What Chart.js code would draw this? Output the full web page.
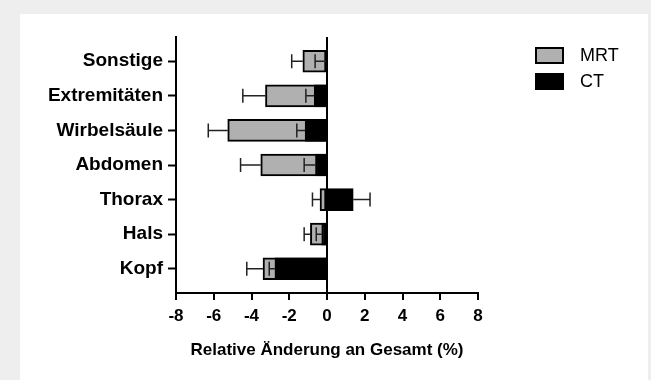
<!DOCTYPE html>
<html>
<head>
<meta charset="utf-8">
<script src="https://cdn.jsdelivr.net/npm/chart.js@4.4.0/dist/chart.umd.min.js"></script>
<style>
  body { margin: 0; background: #eeeeee; width: 651px; height: 380px; overflow: hidden; }
  #panel { position: absolute; left: 20px; top: 14px; width: 628px; height: 366px; background: #fff; }
</style>
</head>
<body>
<div id="panel"><canvas id="chart" width="628" height="366"></canvas></div>
<script>
const categories = ["Sonstige", "Extremitäten", "Wirbelsäule", "Abdomen", "Thorax", "Hals", "Kopf"];
const mrtValues = [-1.28, -3.26, -5.26, -3.51, -0.37, -0.88, -3.39];
const mrtErrors = [0.59, 1.2, 1.03, 1.07, 0.4, 0.33, 0.86];
const ctValues = [-0.05, -0.68, -1.16, -0.61, 1.39, -0.28, -2.76];
const ctErrors = [0.58, 0.44, 0.44, 0.6, 0.89, 0.29, 0.3];
const xTicks = [-8, -6, -4, -2, 0, 2, 4, 6, 8];

Chart.defaults.font.family = "'Liberation Sans', Arial, sans-serif";
Chart.defaults.color = "#000";

const toPoints = (vals) => vals.map((v, i) => ({ x: v, y: i }));

// whiskers go outward from the bar end, one-sided
const errorBars = {
  id: "errorBars",
  afterDatasetsDraw(chart) {
    const { ctx } = chart;
    const xs = chart.scales.x;
    chart.data.datasets.forEach((ds, di) => {
      const meta = chart.getDatasetMeta(di);
      meta.data.forEach((bar, i) => {
        const v = ds.data[i].x;
        const dir = v < 0 ? -1 : 1;
        const x0 = xs.getPixelForValue(v);
        const x1 = xs.getPixelForValue(v + dir * ds.errors[i]);
        ctx.save();
        ctx.strokeStyle = "#222";
        ctx.lineWidth = 1.5;
        ctx.beginPath();
        ctx.moveTo(x0, bar.y);
        ctx.lineTo(x1, bar.y);
        ctx.moveTo(x1, bar.y - 7);
        ctx.lineTo(x1, bar.y + 7);
        ctx.stroke();
        ctx.restore();
      });
    });
  }
};

const boxLegend = {
  id: "boxLegend",
  afterDraw(chart) {
    const { ctx } = chart;
    chart.data.datasets.forEach((ds, i) => {
      const y = 33 + i * 26;
      ctx.save();
      ctx.fillStyle = ds.backgroundColor;
      ctx.fillRect(515, y, 29, 17);
      ctx.strokeStyle = "#000";
      ctx.lineWidth = 2;
      ctx.strokeRect(516, y + 1, 27, 15);
      ctx.fillStyle = "#000";
      ctx.font = "18px 'Liberation Sans', Arial, sans-serif";
      ctx.textBaseline = "middle";
      ctx.fillText(ds.label, 560, y + 9);
      ctx.restore();
    });
  }
};

new Chart(document.getElementById("chart"), {
  type: "bar",
  data: {
    datasets: [
      {
        label: "MRT",
        data: toPoints(mrtValues),
        errors: mrtErrors,
        backgroundColor: "#b0b0b0",
        borderColor: "#000",
        borderWidth: 2,
        borderSkipped: false,
        barThickness: 22,
        grouped: false,
        order: 2
      },
      {
        label: "CT",
        data: toPoints(ctValues),
        errors: ctErrors,
        backgroundColor: "#000",
        borderColor: "#000",
        borderWidth: 2,
        borderSkipped: false,
        barThickness: 22,
        grouped: false,
        order: 1
      }
    ]
  },
  options: {
    indexAxis: "y",
    responsive: false,
    animation: false,
    layout: { padding: { top: 23, right: 170, left: 0, bottom: 0 } },
    plugins: { legend: { display: false }, tooltip: { enabled: false } },
    scales: {
      x: {
        type: "linear",
        min: -8,
        max: 8,
        afterBuildTicks: (s) => { s.ticks = xTicks.map((v) => ({ value: v })); },
        afterFit: (s) => { s.height = 87; },
        ticks: { font: { size: 17, weight: "bold" }, padding: 6, maxRotation: 0 },
        grid: {
          color: (c) => (c.tick && c.tick.value === 0 ? "#000" : "transparent"),
          lineWidth: 2,
          tickColor: "#000",
          tickWidth: 2,
          tickLength: 7
        },
        border: { display: true, color: "#000", width: 2 },
        title: {
          display: true,
          text: "Relative Änderung an Gesamt (%)",
          font: { size: 17, weight: "bold" },
          padding: { top: 0, bottom: 19 }
        }
      },
      y: {
        type: "linear",
        reverse: true,
        offset: false,
        min: -0.7,
        max: 6.7,
        afterBuildTicks: (s) => { s.ticks = categories.map((c, i) => ({ value: i })); },
        afterFit: (s) => { s.width = 156; },
        ticks: {
          callback: (v) => categories[v],
          font: { size: 19, weight: "bold" },
          padding: 5
        },
        grid: {
          offset: false,
          drawOnChartArea: false,
          tickColor: "#000",
          tickWidth: 2,
          tickLength: 8
        },
        border: { display: true, color: "#000", width: 2 }
      }
    }
  },
  plugins: [errorBars, boxLegend]
});
</script>
</body>
</html>
